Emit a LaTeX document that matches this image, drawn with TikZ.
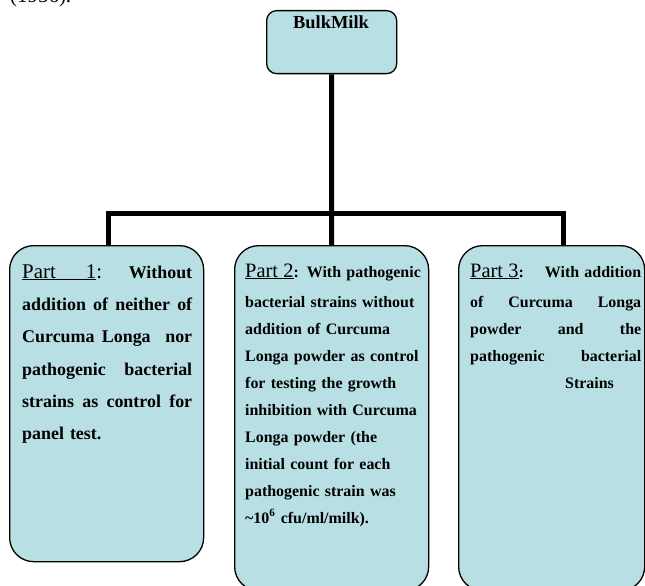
\documentclass[tikz,border=0pt]{standalone}
\usepackage{fontspec}
\setmainfont{Liberation Serif}
\definecolor{boxfill}{HTML}{B8DFE3}
\newcommand\ulpart[1]{\setbox0\hbox{#1}\rlap{\rule[-2.2bp]{\wd0}{1.2bp}}\box0}
\newcommand\jline[2]{\makebox[#1][s]{\spaceskip=0pt\xspaceskip=0pt #2}}
\pgfdeclarelayer{bg}
\pgfsetlayers{bg,main}
\begin{document}
\begin{tikzpicture}[x=1bp,y=-1bp,
  box/.style={draw=black, line width=1.3bp, fill=boxfill, rounded corners=24bp,
    inner sep=0pt, anchor=north west},
  conn/.style={line width=5bp, line join=miter, line cap=rect},
  txt/.style={inner sep=0pt, anchor=base west, align=left}]
\useasboundingbox (0,0) rectangle (645,586);

\node[inner sep=0pt, anchor=base west, font=\fontsize{21}{25}\selectfont] (yr) at (10,3) {(1956).};

\node[box, rounded corners=10bp, minimum width=130bp, minimum height=63bp] (top) at (266,10) {};
\node[box, minimum width=194bp, minimum height=316bp] (p1) at (9,245) {};
\node[box, minimum width=194bp, minimum height=345bp] (p2) at (234,245) {};
\node[box, minimum width=186bp, minimum height=345bp] (p3) at (458,245) {};

\coordinate (jl) at (108,213.5);
\coordinate (jr) at (563,213.5);

\begin{pgfonlayer}{bg}
\draw[conn, line cap=butt] (top.south) -- (p2.north);
\draw[conn] (jl |- p1.north) -- (jl) -- (jr) -- (jr |- p3.north);
\end{pgfonlayer}

\node[inner sep=0pt, anchor=base, font=\bfseries\fontsize{18.5}{22}\selectfont] (bm) at (331,29) {BulkMilk};

\node[txt, text width=170bp, font=\bfseries\fontsize{18}{32.5}\selectfont] (t1) at (22,278) {%
\makebox[170bp][l]{{\mdseries\fontsize{21}{24}\selectfont\ulpart{Part\hspace{30bp}1}:}\hfill Without}\\
\jline{170bp}{addition of neither of}\\
\jline{170bp}{Curcuma Longa\ \ nor}\\
\jline{170bp}{pathogenic bacterial}\\
\jline{170bp}{strains as control for}\\
panel test.};

\node[txt, text width=180bp, font=\bfseries\fontsize{16}{27}\selectfont] (t2) at (245,277) {%
\makebox[174bp][l]{{\mdseries\fontsize{20.5}{24}\selectfont\ulpart{Part 2}}: With pathogenic}\\[4bp]
bacterial strains without\\
addition of Curcuma\\
Longa powder as control\\
for testing the growth\\
inhibition with Curcuma\\
Longa powder (the\\
initial count for each\\
pathogenic strain was\\
\textasciitilde10\textsuperscript{6} cfu/ml/milk).};

\node[txt, text width=171bp, font=\bfseries\fontsize{16}{27}\selectfont] (t3) at (470,277) {%
\makebox[171bp][l]{{\mdseries\fontsize{20.5}{24}\selectfont\ulpart{Part 3}}:\hfill With addition}\\[4bp]
\jline{171bp}{of Curcuma Longa}\\
\jline{171bp}{powder and the}\\
\jline{171bp}{pathogenic bacterial}\\
\hspace*{95bp}Strains};
\end{tikzpicture}
\end{document}
